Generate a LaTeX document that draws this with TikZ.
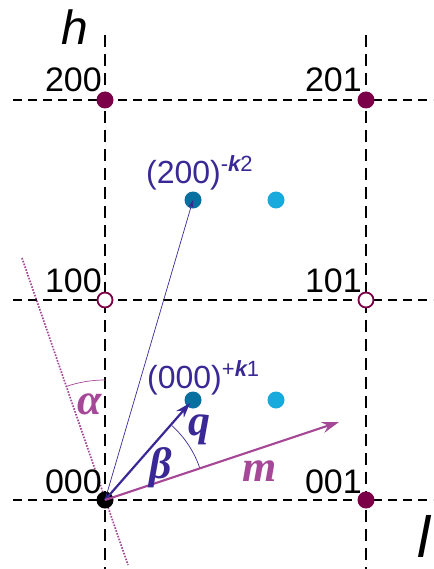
\documentclass[tikz,border=0pt]{standalone}
\usepackage{fontspec}
\setmainfont{Liberation Sans}
\newfontfamily\gkfont{Liberation Serif}
\usetikzlibrary{arrows.meta,calc}
\definecolor{dotpurple}{RGB}{122,0,72}
\definecolor{indigo}{RGB}{58,40,150}
\definecolor{pinkv}{RGB}{166,72,152}
\definecolor{tealdot}{RGB}{8,112,160}
\definecolor{cyandot}{RGB}{24,170,220}
\newcommand{\supk}[1]{\raisebox{12pt}{\fontsize{22}{23}\selectfont #1}}
\tikzset{
  gridline/.style={black,line width=1.7pt,dash pattern=on 9pt off 6pt},
  vgridline/.style={black,line width=1.7pt,dash pattern=on 12pt off 7pt},
  pdot/.style={circle,fill=dotpurple,minimum size=17pt,inner sep=0pt},
  odot/.style={circle,draw=dotpurple,line width=1.8pt,fill=white,minimum size=15pt,inner sep=0pt},
  bdot/.style={circle,fill=black,minimum size=17pt,inner sep=0pt},
  tdot/.style={circle,fill=tealdot,minimum size=17pt,inner sep=0pt},
  cdot/.style={circle,fill=cyandot,minimum size=17pt,inner sep=0pt},
  lbl/.style={inner sep=0pt,font=\fontsize{34}{36}\selectfont},
  blbl/.style={inner sep=0pt,text=indigo,font=\fontsize{32}{34}\selectfont},
  gk/.style={inner sep=0pt,font=\fontsize{44}{48}\gkfont\bfseries\itshape},
}
\begin{document}
\begin{tikzpicture}[x=1pt,y=1pt]
\useasboundingbox (0,0) rectangle (433,-569);
% grid
\draw[gridline] (13,-100) -- (433,-100);
\draw[gridline] (13,-300) -- (433,-300);
\draw[gridline] (13,-500) -- (433,-500);
\draw[vgridline] (105,-35) -- (105,-569);
\draw[vgridline] (366,-35) -- (366,-569);
% axis labels
\node[inner sep=0pt,anchor=base,font=\fontsize{48}{50}\selectfont\itshape] (hlab) at (75,-45) {h};
\node[inner sep=0pt,anchor=base,font=\fontsize{58}{60}\selectfont\itshape] (llab) at (424,-557) {l};
% dotted line and alpha arc
\coordinate (dtop) at (22,-258);
\coordinate (dbot) at (128,-565);
\draw[pinkv,line width=1.7pt,dash pattern=on 1.6pt off 1.4pt] (dtop) -- (dbot);
\draw[pinkv,line width=0.7pt] (105,-380) arc[start angle=90,end angle=109,radius=120];
% lattice points
\node[pdot] (n200) at (105,-100) {};
\node[pdot] (n201) at (366,-100) {};
\node[odot] (n100) at (105,-300) {};
\node[odot] (n101) at (366,-300) {};
\node[pdot] (n001) at (366,-500) {};
\node[tdot] (s2a) at (193,-200) {};
\node[cdot] (s2b) at (276,-200) {};
\node[tdot] (s1a) at (193,-400) {};
\node[cdot] (s1b) at (276,-400) {};
\node[bdot] (n000) at (105,-500) {};
% numeric labels
\node[lbl,anchor=base east] (t200) at (102,-92) {200};
\node[lbl,anchor=base east] (t201) at (362,-92) {201};
\node[lbl,anchor=base east] (t100) at (102,-292) {100};
\node[lbl,anchor=base east] (t101) at (362,-292) {101};
\node[lbl,anchor=base east] (t000) at (102,-493) {000};
\node[lbl,anchor=base east] (t001) at (362,-493) {001};
\node[blbl,anchor=base west] (k2) at (146,-184) {(200)\supk{-{\bfseries\itshape k}2}};
\node[blbl,anchor=base west] (k1) at (147,-388) {(000)\supk{+{\bfseries\itshape k}1}};
% vectors
\coordinate (qend) at (190,-403);
\coordinate (mend) at (339,-422);
\draw[indigo,line width=0.7pt,-{Stealth[length=8pt,width=5pt]}] (n000.center) -- (s2a.center);
\draw[indigo,line width=0.7pt] ($(n000.center)+(18.4:100)$) arc[start angle=18.4,end angle=48,radius=100];
\draw[indigo,line width=2.2pt,-{Stealth[length=15pt,width=10pt]}] (n000.center) -- (qend);
\draw[pinkv,line width=2.2pt,-{Stealth[length=17pt,width=11pt]}] (n000.center) -- (mend);
% greek and vector labels
\node[gk,text=pinkv] (alab) at (90,-404) {α};
\node[gk,text=indigo] (blab) at (161,-468) {β};
\node[gk,text=indigo] (qlab) at (199,-430) {q};
\node[gk,text=pinkv] (mlab) at (260,-471) {m};
\end{tikzpicture}
\end{document}
